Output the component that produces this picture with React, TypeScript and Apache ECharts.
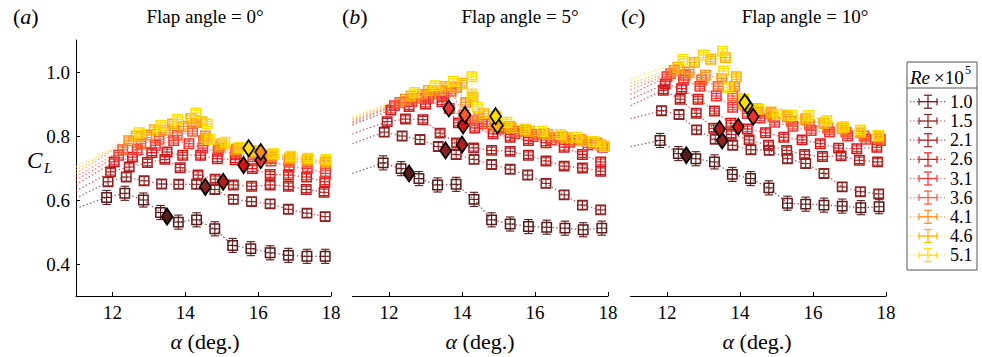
import React, { useEffect, useRef } from "react";
import * as echarts from "echarts";

const FONT = "Liberation Serif";

const reLabels = ["1.0", "1.5", "2.1", "2.6", "3.1", "3.6", "4.1", "4.6", "5.1"];
const reColors = ["#5a1a1a", "#8a2222", "#b01e1e", "#d81414", "#f23232", "#ff5a2c", "#ff8a1e", "#ffb000", "#ffde00"];
const errCL = [0.022, 0.013, 0.01, 0.009, 0.008, 0.008, 0.008, 0.008, 0.008];
const xTicks = [12, 14, 16, 18];
const yTicks = [0.4, 0.6, 0.8, 1.0];
const panelTitles = ["Flap angle = 0°", "Flap angle = 5°", "Flap angle = 10°"];
const panelTags = ["a", "b", "c"];

// ---- Panel (a): flap 0 deg ----
const A_alpha = [
  [11.84, 12.34, 12.85, 13.32, 13.81, 14.31, 14.81, 15.3, 15.8, 16.33, 16.83, 17.34, 17.84],
  [11.88, 12.38, 12.87, 13.35, 13.82, 14.31, 14.81, 15.32, 15.82, 16.33, 16.83, 17.34, 17.84],
  [11.95, 12.46, 12.96, 13.44, 13.86, 14.35, 14.82, 15.32, 15.82, 16.33, 16.83, 17.32, 17.81],
  [12.05, 12.55, 13.08, 13.5, 13.93, 14.42, 14.88, 15.37, 15.84, 16.33, 16.83, 17.33, 17.83],
  [12.17, 12.68, 13.18, 13.68, 14.1, 14.48, 14.9, 15.4, 15.86, 16.35, 16.85, 17.35, 17.85],
  [12.28, 12.78, 13.28, 13.78, 14.2, 14.5, 14.92, 15.38, 15.86, 16.35, 16.85, 17.35, 17.85],
  [12.45, 12.95, 13.45, 13.95, 14.3, 14.55, 14.95, 15.4, 15.88, 16.36, 16.86, 17.35, 17.85],
  [12.65, 13.15, 13.65, 14.15, 14.45, 14.6, 15.0, 15.45, 15.9, 16.38, 16.88, 17.36, 17.86],
  [12.74, 13.33, 13.79, 14.29, 14.6, 14.68, 15.09, 15.5, 15.96, 16.43, 16.9, 17.38, 17.87],
];
const A_cl = [
  [0.608, 0.621, 0.6, 0.561, 0.531, 0.538, 0.51, 0.458, 0.448, 0.435, 0.427, 0.424, 0.424],
  [0.657, 0.672, 0.66, 0.65, 0.649, 0.649, 0.633, 0.602, 0.595, 0.588, 0.571, 0.559, 0.548],
  [0.688, 0.703, 0.717, 0.727, 0.701, 0.678, 0.665, 0.647, 0.643, 0.647, 0.643, 0.633, 0.624],
  [0.719, 0.734, 0.748, 0.75, 0.74, 0.74, 0.729, 0.726, 0.698, 0.68, 0.678, 0.672, 0.657],
  [0.74, 0.757, 0.771, 0.786, 0.776, 0.762, 0.752, 0.745, 0.735, 0.722, 0.703, 0.698, 0.683],
  [0.757, 0.776, 0.79, 0.802, 0.815, 0.785, 0.762, 0.752, 0.742, 0.732, 0.722, 0.718, 0.714],
  [0.785, 0.803, 0.818, 0.83, 0.842, 0.8, 0.768, 0.758, 0.748, 0.737, 0.728, 0.724, 0.719],
  [0.8, 0.82, 0.838, 0.855, 0.845, 0.79, 0.775, 0.762, 0.752, 0.742, 0.733, 0.728, 0.722],
  [0.81, 0.833, 0.852, 0.872, 0.838, 0.79, 0.781, 0.765, 0.755, 0.745, 0.737, 0.731, 0.727],
];
const A_start = [0.574, 0.605, 0.628, 0.648, 0.662, 0.673, 0.683, 0.693, 0.703];
const A_stall: (number[] | null)[] = [
  [13.5, 0.548], [14.55, 0.641], [15.04, 0.657], [15.6, 0.709], [16.07, 0.724], null, [16.07, 0.75], null, [15.74, 0.762],
];

// ---- Panel (b): flap 5 deg ----
const B_alpha = [
  [11.84, 12.33, 12.82, 13.33, 13.84, 14.33, 14.81, 15.32, 15.82, 16.32, 16.82, 17.32, 17.83],
  [11.87, 12.36, 12.85, 13.35, 13.84, 14.33, 14.81, 15.32, 15.8, 16.3, 16.8, 17.3, 17.8],
  [11.95, 12.45, 12.93, 13.4, 13.85, 14.32, 14.81, 15.32, 15.82, 16.3, 16.8, 17.3, 17.8],
  [12.05, 12.55, 13.0, 13.45, 13.9, 14.35, 14.85, 15.32, 15.82, 16.3, 16.8, 17.3, 17.8],
  [12.15, 12.62, 13.08, 13.5, 13.65, 14.1, 14.55, 15.0, 15.45, 15.95, 16.45, 16.95, 17.45, 17.85],
  [12.3, 12.78, 13.25, 13.7, 14.05, 14.3, 14.7, 15.1, 15.55, 16.05, 16.55, 17.05, 17.55, 17.9],
  [12.45, 12.92, 13.4, 13.85, 14.1, 14.45, 14.9, 15.3, 15.75, 16.25, 16.75, 17.25, 17.7],
  [12.6, 13.08, 13.55, 14.0, 14.3, 14.6, 14.97, 15.35, 15.85, 16.35, 16.85, 17.3, 17.8],
  [12.7, 13.26, 13.76, 14.27, 14.27, 14.42, 14.92, 15.23, 15.72, 16.2, 16.7, 17.15, 17.6, 17.9],
];
const B_cl = [
  [0.716, 0.698, 0.667, 0.647, 0.649, 0.602, 0.538, 0.525, 0.517, 0.515, 0.512, 0.507, 0.512],
  [0.812, 0.8, 0.789, 0.767, 0.742, 0.727, 0.711, 0.696, 0.678, 0.652, 0.616, 0.584, 0.569],
  [0.845, 0.853, 0.851, 0.809, 0.778, 0.763, 0.755, 0.752, 0.74, 0.722, 0.706, 0.7, 0.69],
  [0.881, 0.892, 0.9, 0.907, 0.841, 0.825, 0.807, 0.796, 0.786, 0.779, 0.765, 0.742, 0.719],
  [0.895, 0.908, 0.918, 0.926, 0.886, 0.855, 0.838, 0.822, 0.808, 0.798, 0.788, 0.78, 0.772, 0.765],
  [0.905, 0.918, 0.93, 0.94, 0.866, 0.848, 0.838, 0.825, 0.815, 0.805, 0.795, 0.787, 0.778, 0.768],
  [0.915, 0.93, 0.942, 0.952, 0.905, 0.86, 0.84, 0.83, 0.818, 0.808, 0.798, 0.789, 0.778],
  [0.925, 0.942, 0.955, 0.965, 0.92, 0.87, 0.833, 0.825, 0.815, 0.805, 0.795, 0.785, 0.772],
  [0.936, 0.957, 0.971, 0.985, 0.931, 0.89, 0.862, 0.843, 0.822, 0.815, 0.805, 0.796, 0.783, 0.767],
];
const B_start = [0.683, 0.776, 0.807, 0.835, 0.84, 0.845, 0.85, 0.855, 0.86];
const B_stall: (number[] | null)[] = [
  [12.55, 0.683], [13.55, 0.755], [14.0, 0.773], [14.03, 0.833], [13.64, 0.886], [14.08, 0.866], null, [14.97, 0.833], [14.92, 0.862],
];

// ---- Panel (c): flap 10 deg ----
const C_alpha = [
  [11.81, 12.31, 12.79, 13.3, 13.79, 14.29, 14.79, 15.3, 15.8, 16.3, 16.8, 17.31, 17.81],
  [11.85, 12.33, 12.81, 13.32, 13.8, 14.3, 14.8, 15.3, 15.8, 16.3, 16.8, 17.3, 17.8],
  [11.9, 12.36, 12.8, 13.28, 13.76, 14.25, 14.78, 15.28, 15.77, 16.26, 16.77, 17.27, 17.77],
  [11.95, 12.4, 12.85, 13.3, 13.75, 14.2, 14.7, 15.2, 15.7, 16.2, 16.7, 17.2, 17.75],
  [12.0, 12.45, 12.9, 13.35, 13.8, 14.2, 14.55, 14.95, 15.45, 15.95, 16.45, 16.95, 17.45, 17.85],
  [12.1, 12.5, 12.95, 13.4, 13.8, 14.1, 14.5, 14.9, 15.4, 15.9, 16.4, 16.9, 17.4, 17.85],
  [12.2, 12.6, 13.05, 13.5, 13.85, 14.1, 14.45, 14.85, 15.3, 15.8, 16.3, 16.8, 17.3, 17.8],
  [12.3, 12.75, 13.2, 13.6, 13.9, 14.1, 14.45, 14.85, 15.3, 15.8, 16.3, 16.8, 17.3, 17.8],
  [12.44, 13.0, 13.52, 13.55, 13.67, 14.1, 14.52, 15.02, 15.43, 15.89, 16.38, 16.85, 17.3, 17.78],
];
const C_cl = [
  [0.786, 0.745, 0.729, 0.719, 0.68, 0.667, 0.638, 0.59, 0.587, 0.584, 0.581, 0.576, 0.579],
  [0.879, 0.867, 0.819, 0.79, 0.771, 0.757, 0.755, 0.729, 0.714, 0.683, 0.641, 0.626, 0.619],
  [0.943, 0.915, 0.871, 0.824, 0.805, 0.788, 0.771, 0.755, 0.742, 0.736, 0.738, 0.724, 0.719],
  [0.962, 0.948, 0.915, 0.878, 0.84, 0.822, 0.81, 0.796, 0.788, 0.776, 0.762, 0.76, 0.765],
  [0.985, 0.975, 0.955, 0.925, 0.89, 0.87, 0.856, 0.843, 0.83, 0.817, 0.812, 0.8, 0.79, 0.786],
  [0.995, 0.99, 0.975, 0.955, 0.925, 0.9, 0.875, 0.86, 0.845, 0.835, 0.825, 0.812, 0.8, 0.79],
  [1.005, 1.0, 0.99, 0.98, 0.955, 0.915, 0.885, 0.87, 0.86, 0.85, 0.84, 0.825, 0.81, 0.796],
  [1.015, 1.03, 1.04, 1.045, 0.985, 0.9, 0.885, 0.875, 0.865, 0.855, 0.84, 0.825, 0.812, 0.8],
  [1.04, 1.053, 1.065, 1.003, 0.951, 0.915, 0.884, 0.867, 0.864, 0.864, 0.848, 0.829, 0.819, 0.802],
];
const C_start = [0.767, 0.854, 0.895, 0.915, 0.93, 0.945, 0.955, 0.965, 0.975];
const C_stall: (number[] | null)[] = [
  [12.53, 0.74], [13.51, 0.786], [13.44, 0.822], [13.95, 0.829], [14.36, 0.86], null, null, [14.2, 0.895], [14.13, 0.905],
];

const panelAlpha = [A_alpha, B_alpha, C_alpha];
const panelCl = [A_cl, B_cl, C_cl];
const panelStart = [A_start, B_start, C_start];
const panelStall = [A_stall, B_stall, C_stall];

const gridBoxes = [
  { left: 76, top: 40, width: 255, height: 256 },
  { left: 352.5, top: 40, width: 255.5, height: 256 },
  { left: 630.5, top: 40, width: 255.5, height: 256 },
];
const tagX = [13, 342, 621];
const titleX = [205, 520, 805];
const xLabelX = [205, 480, 757];
const legendY = [101.7, 121, 140.2, 159.4, 178.5, 197.6, 216.8, 236, 255.2];

const makeRender = (color: string) => (_params: any, api: any) => {
  const a = api.value(0);
  const v = api.value(1);
  const e = api.value(2);
  const c = api.coord([a, v]);
  const cx = c[0];
  const cy = c[1];
  const ty = api.coord([a, v + e])[1];
  const by = api.coord([a, v - e])[1];
  const h = 4.7;
  const cap = 4.2;
  const ls = { stroke: color, lineWidth: 1.1, fill: "none" };
  return {
    type: "group",
    children: [
      { type: "rect", shape: { x: cx - h, y: cy - h, width: 2 * h, height: 2 * h }, style: { stroke: color, fill: "none", lineWidth: 1.5 } },
      { type: "line", shape: { x1: cx, y1: Math.min(ty, cy - h), x2: cx, y2: Math.max(by, cy + h) }, style: ls },
      { type: "line", shape: { x1: cx - h, y1: cy, x2: cx + h, y2: cy }, style: ls },
      { type: "line", shape: { x1: cx - cap, y1: ty, x2: cx + cap, y2: ty }, style: ls },
      { type: "line", shape: { x1: cx - cap, y1: by, x2: cx + cap, y2: by }, style: ls },
    ],
  };
};

function txt(text: string, x: number, y: number, size: number, opts: any = {}) {
  const style: any = {
    text,
    fill: "#000",
    fontFamily: FONT,
    fontSize: size,
    fontStyle: opts.italic ? "italic" : "normal",
    textAlign: opts.align || "left",
    align: opts.align || "left",
    textVerticalAlign: "middle",
    verticalAlign: "middle",
  };
  if (opts.rich) style.rich = opts.rich;
  return { type: "text", x, y, silent: true, style };
}

export default function App() {
  const ref = useRef<HTMLDivElement>(null);
  useEffect(() => {
    if (!ref.current) return;
    const chart = echarts.init(ref.current, null, { renderer: "svg" });

    const series: any[] = [];
    for (let p = 0; p < 3; p++) {
      for (let r = 0; r < 9; r++) {
        const al = panelAlpha[p][r];
        const cl = panelCl[p][r];
        series.push({
          type: "line",
          xAxisIndex: p,
          yAxisIndex: p,
          data: [[11, panelStart[p][r]], ...al.map((a, k) => [a, cl[k]])],
          symbol: "none",
          silent: true,
          z: 1,
          lineStyle: { type: [1.3, 2.4], width: 1.3, color: reColors[r], opacity: 0.75 },
        });
      }
      for (let r = 0; r < 9; r++) {
        const al = panelAlpha[p][r];
        const cl = panelCl[p][r];
        series.push({
          type: "custom",
          xAxisIndex: p,
          yAxisIndex: p,
          silent: true,
          z: 2,
          data: al.map((a, k) => [a, cl[k], errCL[r]]),
          renderItem: makeRender(reColors[r]),
        });
      }
      const dia: any[] = [];
      panelStall[p].forEach((s, r) => {
        if (s) dia.push({ value: [s[0], s[1]], itemStyle: { color: reColors[r] } });
      });
      series.push({
        type: "scatter",
        xAxisIndex: p,
        yAxisIndex: p,
        silent: true,
        z: 5,
        symbol: "diamond",
        symbolSize: [11, 16],
        itemStyle: { borderColor: "#000", borderWidth: 1.8, opacity: 1 },
        data: dia,
      });
    }

    const graphics: any[] = [];
    const richNI = (size: number) => ({
      n: { fontFamily: FONT, fontSize: size, fill: "#000", fontStyle: "normal" },
      i: { fontFamily: FONT, fontSize: size, fontStyle: "italic", fill: "#000" },
    });
    for (let p = 0; p < 3; p++) {
      graphics.push(txt(`{n|(}{i|${panelTags[p]}}{n|)}`, tagX[p], 16, 22, { rich: richNI(22) }));
      graphics.push(txt(panelTitles[p], titleX[p], 16, 19, { align: "center" }));
      graphics.push(txt(`{i|α} {n|(deg.)}`, xLabelX[p], 341, 22, { align: "center", rich: richNI(22) }));
    }
    graphics.push(txt("C", 27, 160, 23, { italic: true }));
    graphics.push(txt("L", 44, 168, 15, { italic: true }));

    // legend
    graphics.push({
      type: "rect",
      silent: true,
      shape: { x: 907, y: 62, width: 70, height: 208 },
      style: { fill: "#fff", stroke: "#555", lineWidth: 1 },
    });
    graphics.push({
      type: "line",
      silent: true,
      shape: { x1: 907, y1: 88, x2: 977, y2: 88 },
      style: { stroke: "#555", lineWidth: 1 },
    });
    graphics.push(txt("Re", 910, 77, 19, { italic: true }));
    graphics.push(txt("×10", 934, 77, 19));
    graphics.push(txt("5", 965, 70, 12));
    reLabels.forEach((lab, r) => {
      const cy = legendY[r];
      const col = reColors[r];
      const st = { stroke: col, lineWidth: 1.2 };
      graphics.push({ type: "line", silent: true, shape: { x1: 910, y1: cy, x2: 947, y2: cy }, style: { stroke: col, lineWidth: 1.2, lineDash: [1.2, 2.2], opacity: 0.8 } });
      graphics.push({ type: "line", silent: true, shape: { x1: 928, y1: cy - 6.5, x2: 928, y2: cy + 6.5 }, style: st });
      graphics.push({ type: "line", silent: true, shape: { x1: 924, y1: cy - 6.5, x2: 932, y2: cy - 6.5 }, style: st });
      graphics.push({ type: "line", silent: true, shape: { x1: 924, y1: cy + 6.5, x2: 932, y2: cy + 6.5 }, style: st });
      graphics.push({ type: "line", silent: true, shape: { x1: 919, y1: cy, x2: 937, y2: cy }, style: st });
      graphics.push({ type: "line", silent: true, shape: { x1: 919, y1: cy - 3.5, x2: 919, y2: cy + 3.5 }, style: st });
      graphics.push({ type: "line", silent: true, shape: { x1: 937, y1: cy - 3.5, x2: 937, y2: cy + 3.5 }, style: st });
      graphics.push(txt(lab, 950, cy, 18));
    });

    const option: any = {
      animation: false,
      backgroundColor: "#fff",
      textStyle: { fontFamily: FONT },
      grid: gridBoxes.map((g) => ({ ...g, containLabel: false })),
      xAxis: [0, 1, 2].map((p) => ({
        type: "value",
        gridIndex: p,
        min: 11,
        max: 18,
        axisLine: { show: true, onZero: false, lineStyle: { color: "#000", width: 1 } },
        axisTick: { show: true, inside: true, length: 4, customValues: xTicks, lineStyle: { color: "#000" } },
        axisLabel: { customValues: xTicks, color: "#000", fontFamily: FONT, fontSize: 19, margin: 7 },
        splitLine: { show: false },
      })),
      yAxis: [0, 1, 2].map((p) => ({
        type: "value",
        gridIndex: p,
        min: 0.3,
        max: 1.1,
        show: p === 0,
        axisLine: { show: true, onZero: false, lineStyle: { color: "#000", width: 1 } },
        axisTick: { show: true, inside: true, length: 4, customValues: yTicks, lineStyle: { color: "#000" } },
        axisLabel: {
          customValues: yTicks,
          color: "#000",
          fontFamily: FONT,
          fontSize: 19,
          margin: 6,
          formatter: (v: number) => v.toFixed(1),
        },
        splitLine: { show: false },
      })),
      series,
      graphic: graphics,
    };
    chart.setOption(option);
    return () => chart.dispose();
  }, []);
  return <div ref={ref} style={{ position: "absolute", left: 0, top: 0, width: 982, height: 357 }} />;
}
